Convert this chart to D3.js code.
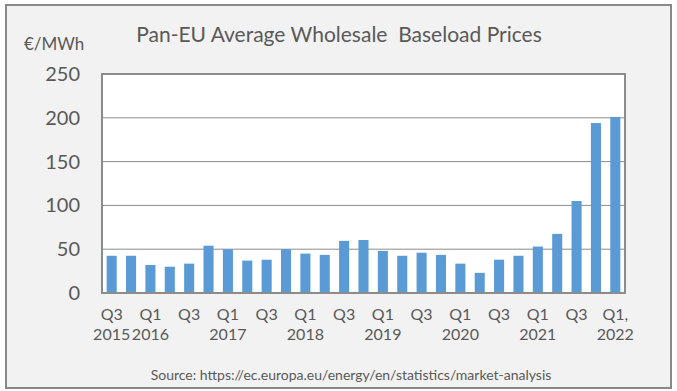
<!DOCTYPE html>
<html>
<head>
<meta charset="utf-8">
<script src="https://cdn.jsdelivr.net/npm/d3@7"></script>
<style>
  body { margin: 0; background: #fff; }
  text { font-family: Lato, "Open Sans", sans-serif; fill: #595959; }
</style>
</head>
<body>
<script>
// quarterly data, Q3 2015 .. Q1 2022
const quarters = ['Q3 2015', 'Q4 2015', 'Q1 2016', 'Q2 2016', 'Q3 2016', 'Q4 2016',
    'Q1 2017', 'Q2 2017', 'Q3 2017', 'Q4 2017', 'Q1 2018', 'Q2 2018', 'Q3 2018', 'Q4 2018',
    'Q1 2019', 'Q2 2019', 'Q3 2019', 'Q4 2019', 'Q1 2020', 'Q2 2020', 'Q3 2020', 'Q4 2020',
    'Q1 2021', 'Q2 2021', 'Q3 2021', 'Q4 2021', 'Q1 2022'];
const prices = [42.5, 42.5, 32, 30, 33.5, 54, 50, 37, 38, 50, 45, 43.5, 59.5, 60.5,
    48, 42.5, 46, 43.5, 33.5, 23, 38, 42.5, 53, 67.5, 105, 194, 201];
// labels under every second bar: [line1, line2]
const tickLabels = {
    'Q3 2015': ['Q3', '2015'], 'Q1 2016': ['Q1', '2016'], 'Q3 2016': ['Q3', ''],
    'Q1 2017': ['Q1', '2017'], 'Q3 2017': ['Q3', ''], 'Q1 2018': ['Q1', '2018'],
    'Q3 2018': ['Q3', ''], 'Q1 2019': ['Q1', '2019'], 'Q3 2019': ['Q3', ''],
    'Q1 2020': ['Q1', '2020'], 'Q3 2020': ['Q3', ''], 'Q1 2021': ['Q1', '2021'],
    'Q3 2021': ['Q3', ''], 'Q1 2022': ['Q1,', '2022']
};
const yTicks = [0, 50, 100, 150, 200, 250];

const width = 677, height = 391;
const margin = { top: 74, right: 52, bottom: 98, left: 102 };
const innerW = width - margin.left - margin.right;
const innerH = height - margin.top - margin.bottom;

const svg = d3.select('body').append('svg')
    .attr('width', width)
    .attr('height', height);

// chart background + frame
svg.append('rect')
    .attr('x', 6).attr('y', 5)
    .attr('width', 665).attr('height', 383)
    .attr('fill', '#f2f2f2')
    .attr('stroke', '#898989')
    .attr('stroke-width', 2);

const g = svg.append('g')
    .attr('transform', `translate(${margin.left},${margin.top})`);

const x = d3.scaleBand()
    .domain(quarters)
    .range([0, innerW])
    .paddingInner(0.48)
    .paddingOuter(0.24);

const y = d3.scaleLinear()
    .domain([0, 250])
    .range([innerH, 0]);

g.append('rect')
    .attr('width', innerW)
    .attr('height', innerH)
    .attr('fill', '#fff');

// gridlines
g.append('g')
    .selectAll('line')
    .data(yTicks.slice(1, -1))
    .join('line')
    .attr('x1', 0).attr('x2', innerW)
    .attr('y1', d => y(d)).attr('y2', d => y(d))
    .attr('stroke', '#8c8c8c')
    .attr('stroke-width', 1);

g.selectAll('.bar')
    .data(prices)
    .join('rect')
    .attr('class', 'bar')
    .attr('x', (d, i) => x(quarters[i]))
    .attr('y', d => y(d))
    .attr('width', x.bandwidth())
    .attr('height', d => innerH - y(d))
    .attr('fill', '#5b9bd5');

// plot border
g.append('rect')
    .attr('width', innerW)
    .attr('height', innerH)
    .attr('fill', 'none')
    .attr('stroke', '#8c8c8c')
    .attr('stroke-width', 2);

// y axis
const yAxis = g.append('g')
    .call(d3.axisLeft(y).tickValues(yTicks).tickSize(0).tickPadding(22));
yAxis.select('.domain').remove();
yAxis.selectAll('text')
    .style('font-size', '20px')
    .style('fill', '#595959');

// x axis
const xAxis = g.append('g')
    .attr('transform', `translate(0,${innerH})`)
    .call(d3.axisBottom(x).tickValues(Object.keys(tickLabels)).tickSize(0).tickFormat(''));
xAxis.select('.domain').remove();
xAxis.selectAll('.tick').each(function (d) {
    const t = d3.select(this).append('text')
        .attr('text-anchor', 'middle')
        .style('font-size', '16px');
    t.append('tspan').attr('x', 0).attr('y', 27).text(tickLabels[d][0]);
    t.append('tspan').attr('x', 0).attr('y', 47).text(tickLabels[d][1]);
});

svg.append('text')
    .attr('x', 339).attr('y', 42)
    .attr('text-anchor', 'middle')
    .style('font-size', '21px')
    .attr('xml:space', 'preserve')
    .text('Pan-EU Average Wholesale  Baseload Prices');

svg.append('text')
    .attr('x', 24).attr('y', 50)
    .style('font-size', '17px')
    .text('€/MWh');

svg.append('text')
    .attr('x', 351).attr('y', 380)
    .attr('text-anchor', 'middle')
    .style('font-size', '14px')
    .text('Source: https://ec.europa.eu/energy/en/statistics/market-analysis');
</script>
</body>
</html>
